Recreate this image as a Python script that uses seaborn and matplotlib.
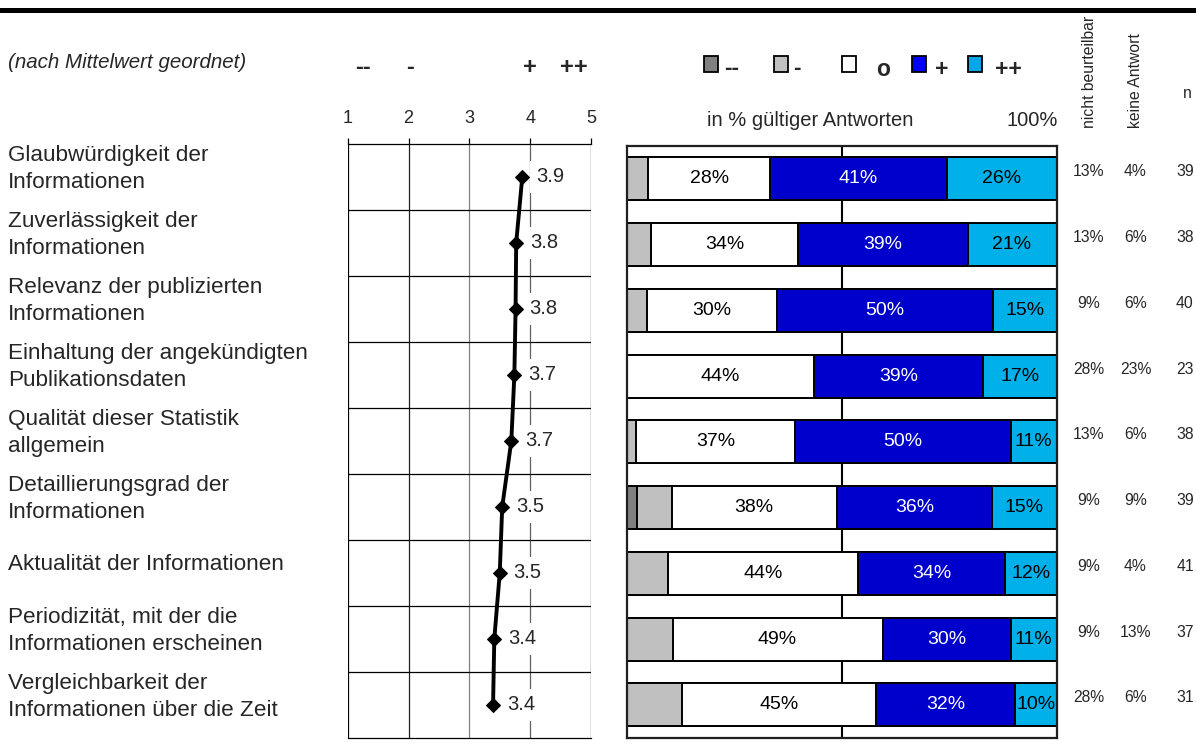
import numpy as np
import pandas as pd
import seaborn as sns
import matplotlib
matplotlib.use("Agg")
import matplotlib.pyplot as plt
from matplotlib.patches import Rectangle
from matplotlib.lines import Line2D
import matplotlib.transforms as mtransforms

# ---------------- data ----------------
categories = [
    "Glaubwürdigkeit der\nInformationen",
    "Zuverlässigkeit der\nInformationen",
    "Relevanz der publizierten\nInformationen",
    "Einhaltung der angekündigten\nPublikationsdaten",
    "Qualität dieser Statistik\nallgemein",
    "Detaillierungsgrad der\nInformationen",
    "Aktualität der Informationen",
    "Periodizität, mit der die\nInformationen erscheinen",
    "Vergleichbarkeit der\nInformationen über die Zeit",
]
means = [3.87, 3.77, 3.76, 3.74, 3.69, 3.54, 3.50, 3.41, 3.39]

seg_names = ["--", "-", "o", "+", "++"]
pct_mm = [0.0, 0.0, 0.0, 0.0, 0.0, 2.3, 0.0, 0.0, 0.0]          # --
pct_m = [5.0, 5.5, 4.7, 0.0, 2.2, 8.1, 9.6, 10.6, 12.7]          # -
pct_o = [28.4, 34.4, 30.2, 43.5, 37.0, 38.4, 44.2, 48.9, 45.3]   # o
pct_p = [41.0, 39.4, 50.4, 39.3, 50.2, 36.2, 34.3, 29.9, 32.4]   # +
pct_pp = [25.6, 20.7, 14.7, 17.2, 10.6, 15.0, 11.9, 10.6, 9.6]   # ++

nicht_beurteilbar = [13, 13, 9, 28, 13, 9, 9, 9, 28]
keine_antwort = [4, 6, 6, 23, 6, 9, 4, 13, 6]
n_values = [39, 38, 40, 23, 38, 39, 41, 37, 31]

scale_ticks = [1, 2, 3, 4, 5]
scale_words = ["--", "-", "+", "++"]
scale_word_pos = [1.25, 2.03, 4.0, 4.72]

seg_colors = ["#808080", "#C0C0C0", "#FFFFFF", "#0000CC", "#00B0E8"]
legend_colors = ["#808080", "#C0C0C0", "#FFFFFF", "#0000FF", "#00A8E8"]
label_colors = ["black", "black", "black", "white", "black"]

# ---------------- setup ----------------
sns.set_style("white")
plt.rcParams["font.family"] = ["Liberation Sans", "DejaVu Sans"]

W, H = 1196, 745
fig = plt.figure(figsize=(W / 100, H / 100), dpi=100)
fig.patch.set_facecolor("white")


def fx(px):
    return px / W


def fy(py):
    return 1 - py / H


nrows = len(categories)
pos = np.arange(nrows)

# ---------------- mean panel ----------------
m_left, m_right, m_top, m_bot = 347.7, 591.0, 144.0, 738.0
ax_m = fig.add_axes([fx(m_left), fy(m_bot), (m_right - m_left) / W, (m_bot - m_top) / H])
ax_m.set_xlim(1, 5)
ax_m.set_ylim(nrows - 0.5, -0.5)

grid_cols = {1: "black", 2: "#202020", 3: "#808080", 4: "#606060", 5: "black"}
for t in scale_ticks:
    ax_m.axvline(t, color=grid_cols[t], lw=0.9, zorder=1)
for b in np.arange(0.5, nrows - 0.5, 1):
    ax_m.axhline(b, color="black", lw=0.9, zorder=1)
for s in ax_m.spines.values():
    s.set_color("black")
    s.set_linewidth(0.9)
ax_m.spines["left"].set_visible(False)
ax_m.spines["right"].set_visible(False)

df_m = pd.DataFrame({"mean": means, "pos": pos})
sns.lineplot(data=df_m, x="mean", y="pos", sort=False, orient="y", estimator=None,
             color="black", linewidth=2.8, marker="D", markersize=7,
             markeredgecolor="black", ax=ax_m, zorder=5)
for m, p in zip(means, pos):
    ax_m.annotate(f"{m:.1f}", (m, p), xytext=(10, 0), textcoords="offset points",
                  ha="left", va="center", fontsize=14.5, zorder=4,
                  bbox=dict(boxstyle="square,pad=0.32", fc="white", ec="none"))

ax_m.xaxis.tick_top()
ax_m.set_xticks(scale_ticks)
ax_m.set_xticklabels([str(t) for t in scale_ticks])
ax_m.tick_params(axis="x", top=True, bottom=False, length=4.5, width=0.9,
                 color="black", pad=8, labelsize=13)
ax_m.set_yticks([])
ax_m.set_xlabel("")
ax_m.set_ylabel("")

# words above scale
word_tr = mtransforms.blended_transform_factory(ax_m.transData, fig.transFigure)
for w_, xp in zip(scale_words, scale_word_pos):
    ax_m.text(xp, fy(74), w_, transform=word_tr, ha="center", va="baseline",
              fontsize=17, fontweight="bold")

# category labels
cat_tr = mtransforms.offset_copy(
    mtransforms.blended_transform_factory(fig.transFigure, ax_m.transData),
    fig=fig, x=0, y=8, units="dots")
for c, p in zip(categories, pos):
    fig.text(fx(8), p, c, transform=cat_tr, ha="left", va="center", fontsize=16.2,
             linespacing=1.38)

# ---------------- stacked bar panel ----------------
b_left, b_right, b_top, b_bot = 627.0, 1056.5, 146.0, 737.7
ax_b = fig.add_axes([fx(b_left), fy(b_bot), (b_right - b_left) / W, (b_bot - b_top) / H])

segs = [pct_mm, pct_m, pct_o, pct_p, pct_pp]
segs_arr = np.array(segs)
cums = np.cumsum(segs_arr, axis=0)

ax_b.axvline(50, color="black", lw=1.5, zorder=0.5)
ycat = [str(i) for i in pos]
for k in range(len(segs) - 1, -1, -1):
    df_b = pd.DataFrame({"cum": cums[k], "row": ycat})
    sns.barplot(data=df_b, x="cum", y="row", order=ycat, orient="h", color=seg_colors[k],
                saturation=1, edgecolor="black", linewidth=1.4, width=0.655,
                errorbar=None, ax=ax_b, zorder=2)

for k in range(2, len(segs)):
    for i in range(nrows):
        v = segs_arr[k, i]
        if v <= 0:
            continue
        xc = cums[k, i] - v / 2
        ax_b.text(xc, i, f"{round(v):d}%", ha="center", va="center", fontsize=14,
                  color=label_colors[k], zorder=6)

ax_b.set_xlim(0, 100)
ax_b.set_ylim(nrows - 0.5, -0.5)
ax_b.set_xticks([])
ax_b.set_yticks([])
ax_b.set_xlabel("")
ax_b.set_ylabel("")
for s in ax_b.spines.values():
    s.set_color("#202020")
    s.set_linewidth(1.6)
    s.set_visible(True)

# header of bar panel
fig.text(fx(707), fy(121), "in % gültiger Antworten", ha="left", va="center", fontsize=14.5)
fig.text(fx(1058), fy(121), "100%", ha="right", va="center", fontsize=14.5)

# legend
leg_sq_x = [703.5, 773.5, 842.0, 912.0, 967.5]
leg_txt_x = [724.0, 793.0, 876.0, 935.0, 995.0]
sq_w, sq_h = 14.0, 15.5
for col, sx, tx, name in zip(legend_colors, leg_sq_x, leg_txt_x, seg_names):
    fig.add_artist(Rectangle((fx(sx), fy(56 + sq_h)), sq_w / W, sq_h / H,
                             transform=fig.transFigure, fc=col, ec="black", lw=1.3))
    fig.text(fx(tx), fy(75.5), name, ha="left", va="baseline", fontsize=16.5,
             fontweight="bold")

# right columns
rc_tr = mtransforms.offset_copy(
    mtransforms.blended_transform_factory(fig.transFigure, ax_b.transData),
    fig=fig, x=0, y=7, units="dots")
for i in range(nrows):
    fig.text(fx(1088.5), i, f"{nicht_beurteilbar[i]}%", transform=rc_tr, ha="center",
             va="center", fontsize=11.3)
    fig.text(fx(1135.5), i, f"{keine_antwort[i]}%", transform=rc_tr, ha="center",
             va="center", fontsize=11.3)
    fig.text(fx(1185), i, f"{n_values[i]}", transform=rc_tr, ha="center",
             va="center", fontsize=11.3)

fig.text(fx(1089.5), fy(128), "nicht beurteilbar", rotation=90, ha="center", va="bottom",
         fontsize=11.3)
fig.text(fx(1136), fy(128), "keine Antwort", rotation=90, ha="center", va="bottom",
         fontsize=11.3)
fig.text(fx(1187), fy(94), "n", ha="center", va="center", fontsize=11.3)

# header
fig.text(fx(8), fy(63), "(nach Mittelwert geordnet)", ha="left", va="center",
         fontsize=14.8, style="italic")

# top rule
fig.add_artist(Line2D([0, 1], [fy(9.5), fy(9.5)], transform=fig.transFigure,
                      color="black", lw=3.6))

fig.savefig("out.png", dpi=100, facecolor="white")
